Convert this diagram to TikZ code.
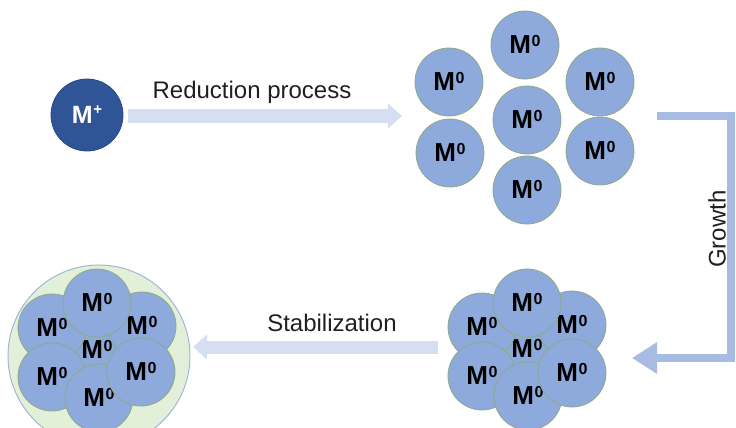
\documentclass[tikz,border=0pt]{standalone}
\usepackage{fontspec}
\setmainfont{Liberation Sans}
\usetikzlibrary{arrows.meta}

\definecolor{ionblue}{HTML}{2F5597}
\definecolor{ionedge}{HTML}{2A4A85}
\definecolor{atomfill}{HTML}{8EA9DB}
\definecolor{atomedge}{HTML}{8DAA84}
\definecolor{shellfill}{HTML}{E2F0D9}
\definecolor{shelledge}{HTML}{A3B6D6}
\definecolor{palearrow}{HTML}{D6DFF1}
\definecolor{growarrow}{HTML}{A8BCE3}
\definecolor{labelgray}{HTML}{1F1F1F}

% metal atom and metal ion labels
\newcommand{\atomlabel}{\textbf{M\kern0.5pt\smash{\raisebox{7.5pt}{\fontsize{16}{16}\selectfont 0}}}}
\newcommand{\ionlabel}{\textbf{M\kern0.5pt\smash{\raisebox{9pt}{\fontsize{15}{15}\selectfont +}}}}

\tikzset{
  atom/.style={circle, minimum size=68pt, inner sep=0pt, fill=atomfill,
    draw=atomedge, line width=0.8pt, font=\fontsize{26}{26}\selectfont},
  ion/.style={circle, minimum size=72pt, inner sep=0pt, fill=ionblue,
    draw=ionedge, line width=0.8pt, text=white, font=\fontsize{25}{25}\selectfont},
  shell/.style={circle, minimum size=182pt, inner sep=0pt, fill=shellfill,
    draw=shelledge, line width=1pt},
  flowarrow/.style={draw=palearrow, line width=14pt,
    -{Triangle[width=24pt,length=14pt]}},
  growpath/.style={draw=growarrow, line width=8pt, line join=miter,
    -{Triangle[width=30pt,length=25pt]}},
  steplabel/.style={font=\fontsize{24}{24}\selectfont, text=labelgray, inner sep=0pt},
}

\begin{document}
\begin{tikzpicture}[x=1pt, y=-1pt]
  \useasboundingbox (0,0) rectangle (736,428);

  % metal ion
  \node[ion] (mplus) at (87,115) {\ionlabel};

  % separated atoms after reduction
  \node[atom] (t-top) at (525,45)  {\atomlabel};
  \node[atom] (t-ul)  at (449,82)  {\atomlabel};
  \node[atom] (t-ur)  at (600,82)  {\atomlabel};
  \node[atom] (t-c)   at (527,120) {\atomlabel};
  \node[atom] (t-ll)  at (450,153) {\atomlabel};
  \node[atom] (t-lr)  at (600,151) {\atomlabel};
  \node[atom] (t-b)   at (527,190) {\atomlabel};

  % grown cluster
  \begin{scope}[shift={(527,349)}]
    \node[atom] (g-c)   at (0,0)     {\atomlabel};
    \node[atom] (g-ul)  at (-45,-22) {\atomlabel};
    \node[atom] (g-ur)  at (45,-24)  {\atomlabel};
    \node[atom] (g-top) at (0,-46)   {\atomlabel};
    \node[atom] (g-ll)  at (-45,27)  {\atomlabel};
    \node[atom] (g-b)   at (1,47)    {\atomlabel};
    \node[atom] (g-lr)  at (45,24)   {\atomlabel};
  \end{scope}

  % stabilized cluster inside its shell
  \node[shell] (shell) at (99,356) {};
  \begin{scope}[shift={(97,350)}]
    \node[atom] (s-c)   at (0,0)     {\atomlabel};
    \node[atom] (s-ul)  at (-45,-22) {\atomlabel};
    \node[atom] (s-ur)  at (45,-24)  {\atomlabel};
    \node[atom] (s-top) at (0,-47)   {\atomlabel};
    \node[atom] (s-ll)  at (-45,27)  {\atomlabel};
    \node[atom] (s-b)   at (2,48)    {\atomlabel};
    \node[atom] (s-lr)  at (44,22)   {\atomlabel};
  \end{scope}

  % process arrows
  \coordinate (redEnd) at (402,116);
  \draw[flowarrow, shorten <=5pt] (mplus.east) ++(0,1) coordinate (redStart) -- (redEnd);
  \node[steplabel] (redLabel) at (252,92) {Reduction process};

  \coordinate (growStart) at (657,116);
  \coordinate (growEnd) at (632,358);
  \draw[growpath] (growStart) -- (731,116) -- (731,358) -- (growEnd);
  \node[steplabel, rotate=90] (growLabel) at (717,229) {Growth};

  \coordinate (stabStart) at (438,347);
  \coordinate (stabEnd) at (193,347);
  \draw[flowarrow, line width=13pt] (stabStart) -- (stabEnd);
  \node[steplabel] (stabLabel) at (332,323) {Stabilization};
\end{tikzpicture}
\end{document}
